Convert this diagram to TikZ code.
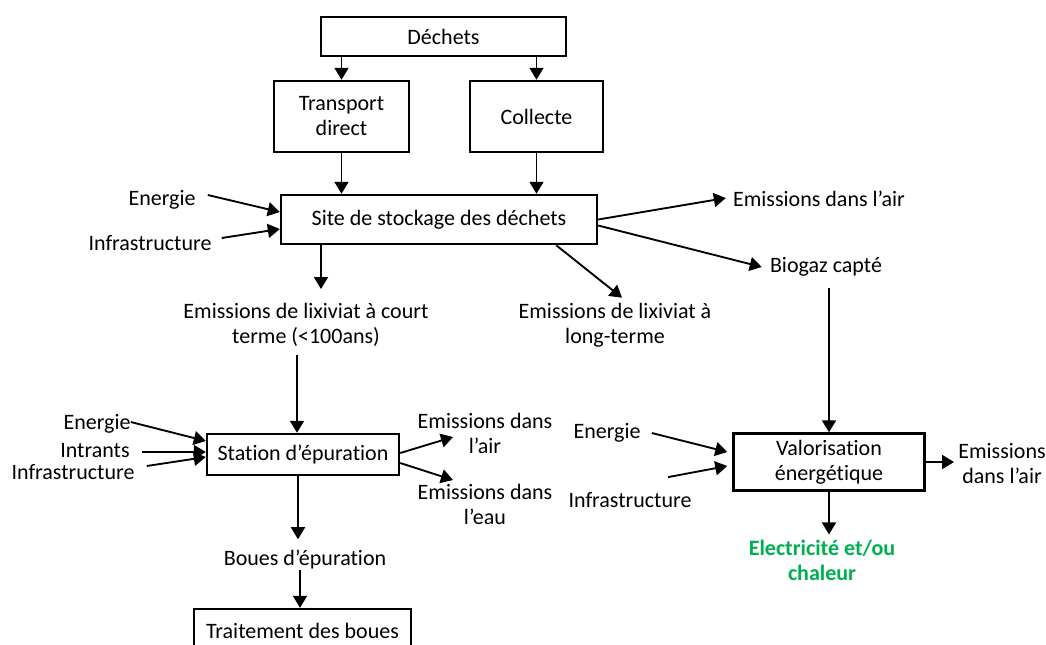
\documentclass[tikz,border=0pt]{standalone}
\usepackage{fontspec}
\setmainfont{Carlito}[Ligatures={NoCommon}]
\usepackage{tikz}
\usetikzlibrary{positioning, arrows.meta, calc}
\usepackage{xcolor}
\definecolor{elecgreen}{RGB}{0,176,80}

\begin{document}
\begin{tikzpicture}[x=0.75pt, y=-0.75pt, >={Triangle[length=9pt, width=10.5pt]},
    every node/.style={font=\fontsize{16.5}{18.75}\selectfont},
    box/.style={draw, line width=1.8pt, align=center, inner sep=0pt},
    lbl/.style={align=center, inner sep=0pt},
    arrow/.style={->, line width=1.4pt}]
    \useasboundingbox (0,0) rectangle (1046,644);
    % boxes
    \node[box, minimum width=183.8pt, minimum height=29.3pt] (dechets) at (443.5,36.5) {Déchets};
    \node[box, minimum width=101.3pt, minimum height=53.3pt] (transport) at (341.5,116.5) {Transport\\direct};
    \node[box, minimum width=99.8pt, minimum height=53.3pt] (collecte) at (536.5,116.5) {Collecte};
    \node[box, minimum width=237pt, minimum height=36.8pt] (site) at (439,219.5) {Site de stockage des déchets};
    \node[box, minimum width=144pt, minimum height=30.8pt] (station) at (303,454.5) {Station d’épuration};
    \node[box, minimum width=143.3pt, minimum height=42.8pt] (valor) at (829,462) {Valorisation\\énergétique};
    \node[box, minimum width=162.8pt, minimum height=33pt] (traitement) at (302.5,631) {Traitement des boues};
    % labels
    \node[lbl] (energie1) at (162,200) {Energie};
    \node[lbl] (infra1) at (150,243) {Infrastructure};
    \node[lbl] (airA) at (819,199) {Emissions dans l’air};
    \node[lbl] (biogaz) at (826,267) {Biogaz capté};
    \node[lbl] (lixcourt) at (306,325) {Emissions de lixiviat à court\\terme (<100ans)};
    \node[lbl] (lixlong) at (615,325) {Emissions de lixiviat à\\long-terme};
    \node[lbl] (energie2) at (97,424) {Energie};
    \node[lbl] (intrants) at (95,451) {Intrants};
    \node[lbl] (infra2) at (73,472) {Infrastructure};
    \node[lbl] (airB) at (485,433) {Emissions dans\\l’air};
    \node[lbl] (eau) at (485,504) {Emissions dans\\l’eau};
    \node[lbl] (boues) at (305,560) {Boues d’épuration};
    \node[lbl] (energie3) at (607,433) {Energie};
    \node[lbl] (infra3) at (630,500) {Infrastructure};
    \node[lbl] (airC) at (1002,464) {Emissions\\dans l’air};
    \node[lbl, text=elecgreen, font=\fontsize{16.5}{18.75}\selectfont\bfseries] (elec) at (822,560) {Electricité et/ou\\chaleur};
    % collecte and transport
    \draw[arrow] (transport |- dechets.south) -- (transport.north);
    \draw[arrow] (collecte |- dechets.south) -- (collecte.north);
    \draw[arrow] (transport.south) -- (transport |- site.north);
    \draw[arrow] (collecte.south) -- (collecte |- site.north);
    % site de stockage
    \draw[arrow] ($(energie1.east)+(12,-5)$) -- ($(site.west)+(0,-7.5)$);
    \draw[arrow] ($(infra1.east)+(10,-5)$) -- ($(site.west)+(0,9.5)$);
    \draw[arrow] (site.east) -- ($(airA.west)+(-7,-1)$);
    \draw[arrow] ($(site.east)+(0,6)$) -- ($(biogaz.west)+(-8,0)$);
    \draw[arrow] ($(site.south)+(-118,0)$) -- ($(lixcourt.north)+(15,-14)$);
    \draw[arrow] ($(site.south east)+(-42,0)$) -- ($(lixlong.north)+(7,-5)$);
    % station d'epuration
    \draw[arrow] ($(lixcourt.south)+(-9,8)$) -- ($(station.north)+(-6,0)$);
    \draw[arrow] ($(energie2.east)+(0,-2)$) -- ($(station.west)+(0,-13.5)$);
    \draw[arrow] ($(intrants.east)+(12,1)$) -- ($(station.west)+(0,-2.5)$);
    \draw[arrow] ($(infra2.east)+(12,-6)$) -- ($(station.west)+(0,2.5)$);
    \draw[arrow] ($(station.east)+(0,-1.5)$) -- ($(airB)+(-32,4)$);
    \draw[arrow] ($(station.east)+(0,8.5)$) -- ($(eau)+(-32,-24)$);
    \draw[arrow] ($(station.south)+(-5,0)$) -- ($(boues.north)+(-7,-11)$);
    \draw[arrow] ($(boues.south)+(-5,0)$) -- ($(traitement.north)+(-2.5,0)$);
    % valorisation
    \draw[arrow] ($(biogaz.south)+(3,11)$) -- (valor.north);
    \draw[arrow] ($(energie3.east)+(11,0)$) -- ($(valor.west)+(-5,-10)$);
    \draw[arrow] ($(infra3.north)+(38,-15)$) -- ($(valor.west)+(-5,4)$);
    \draw[arrow] (valor.east) -- ($(airC.west)+(-4,-2)$);
    \draw[arrow] (valor.south) -- ($(elec.north)+(7,-5)$);
\end{tikzpicture}
\end{document}
